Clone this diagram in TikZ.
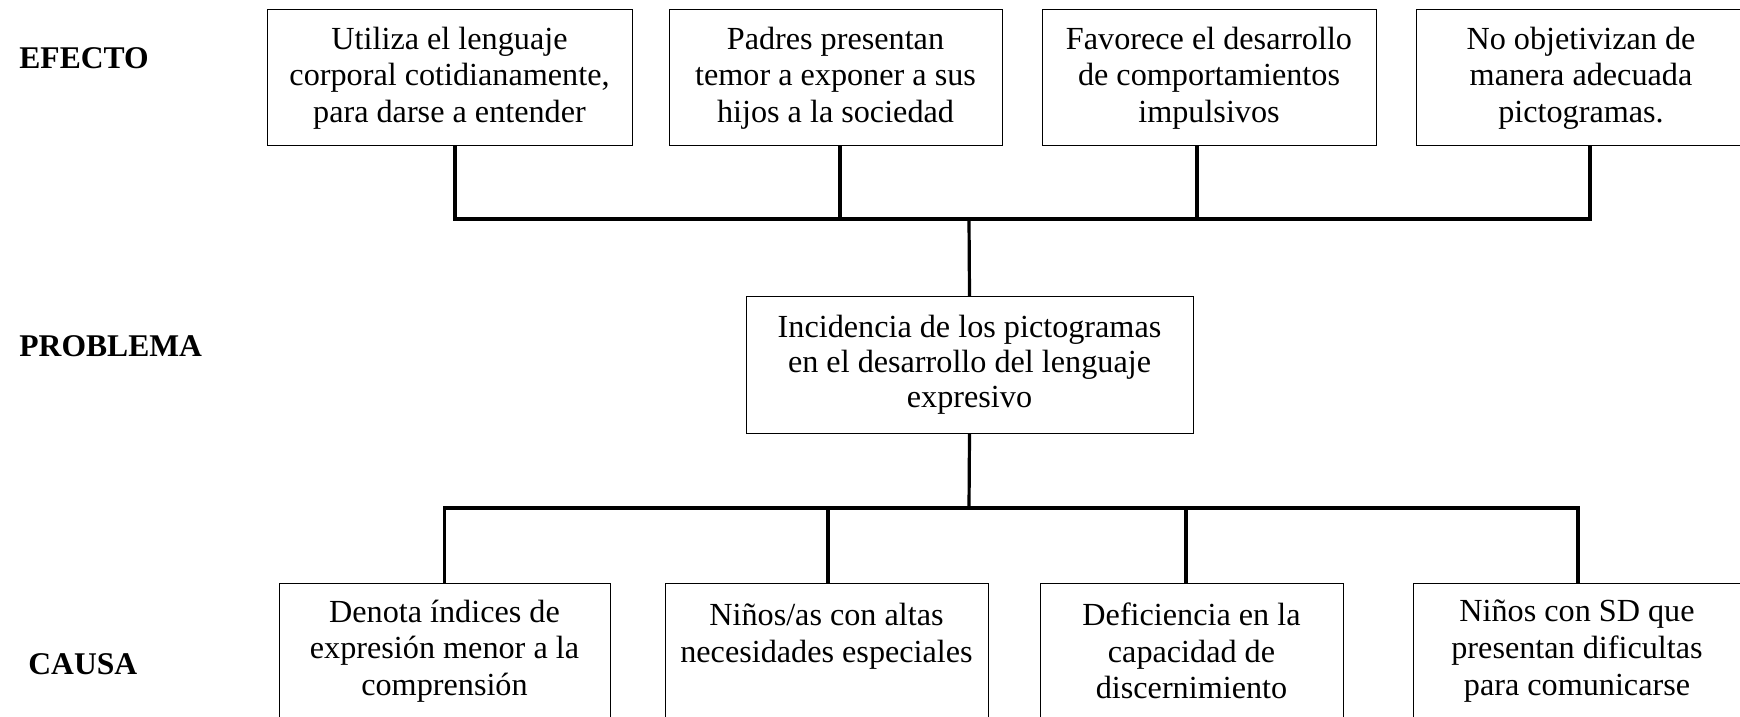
\documentclass[tikz,border=0pt]{standalone}
\usepackage{fontspec}
\setmainfont{Liberation Serif}
\usepackage{tikz}

\begin{document}
\begin{tikzpicture}[x=0.5pt,y=0.5pt,yscale=-1,xscale=1,
	box/.style={draw, line width=0.5pt, align=center, inner sep=0pt, minimum height=68pt, font=\fontsize{16.1}{18.3}\selectfont},
	lbl/.style={anchor=west, inner sep=0pt, font=\fontsize{15.8}{18.3}\selectfont\bfseries},
	bar/.style={line width=1.6pt}]
	%set diagram to the size of the page
	\clip (0,0) rectangle (1740,717);
	\useasboundingbox (0,0) rectangle (1740,717);
	
	% Text Node
	\node [lbl] (efecto) at (19,58) {EFECTO};
	% Text Node
	\node [lbl] (problema) at (19,346) {PROBLEMA};
	% Text Node
	\node [lbl] (causa) at (28,664) {CAUSA};
	
	%Shape: Rectangle [effects]
	\node [box, minimum width=182.5pt] (e1) at (449.5,78) {Utiliza el lenguaje\\corporal cotidianamente,\\para darse a entender};
	\node [box, minimum width=166.5pt] (e2) at (835.5,78) {Padres presentan\\temor a exponer a sus\\hijos a la sociedad};
	\node [box, minimum width=167pt] (e3) at (1209,78) {Favorece el desarrollo\\de comportamientos\\impulsivos};
	\node [box, minimum width=165pt] (e4) at (1581,78) {No objetivizan de\\manera adecuada\\pictogramas.};
	
	%Shape: Rectangle [problem]
	\node [box, minimum width=223.5pt, minimum height=68.5pt, font=\fontsize{16.1}{17.6}\selectfont] (pr) at (969.5,365) {Incidencia de los pictogramas\\en el desarrollo del lenguaje\\expresivo};
	
	%Shape: Rectangle [causes]
	\node [box, minimum width=165.5pt] (c1) at (444.5,651) {Denota índices de\\expresión menor a la\\comprensión};
	\node [box, minimum width=161.5pt] (c2) at (826.5,651) {Niños/as con altas\\necesidades especiales\\\mbox{}};
	\node [box, minimum width=151.5pt] (c3) at (1191.5,651) {Deficiencia en la\\capacidad de\\discernimiento};
	\node [box, minimum width=164pt] (c4) at (1577,651) {Niños con SD que\\presentan dificultas\\para comunicarse};
	
	\coordinate (topbar) at (969,219);
	\coordinate (lowbar) at (969,508);
	
	%Straight Lines [effects to problem]
	\draw [bar] ([xshift=2.75pt]e1.south) |- ([xshift=4.5pt]e4.south |- topbar) -- ([xshift=4.5pt]e4.south);
	\draw [bar] ([xshift=2.25pt]e2.south) -- ([xshift=2.25pt]e2.south |- topbar);
	\draw [bar] ([xshift=-6pt]e3.south) -- ([xshift=-6pt]e3.south |- topbar);
	\draw [bar] (topbar) -- (pr.north);
	
	%Straight Lines [problem to causes]
	\draw [bar] (pr.south) -- (lowbar);
	\draw [bar] (c1.north) |- ([xshift=0.5pt]c4.north |- lowbar) -- ([xshift=0.5pt]c4.north);
	\draw [bar] ([xshift=0.75pt]c2.north) -- ([xshift=0.75pt]c2.north |- lowbar);
	\draw [bar] ([xshift=-2.75pt]c3.north) -- ([xshift=-2.75pt]c3.north |- lowbar);
	
\end{tikzpicture}
\end{document}
